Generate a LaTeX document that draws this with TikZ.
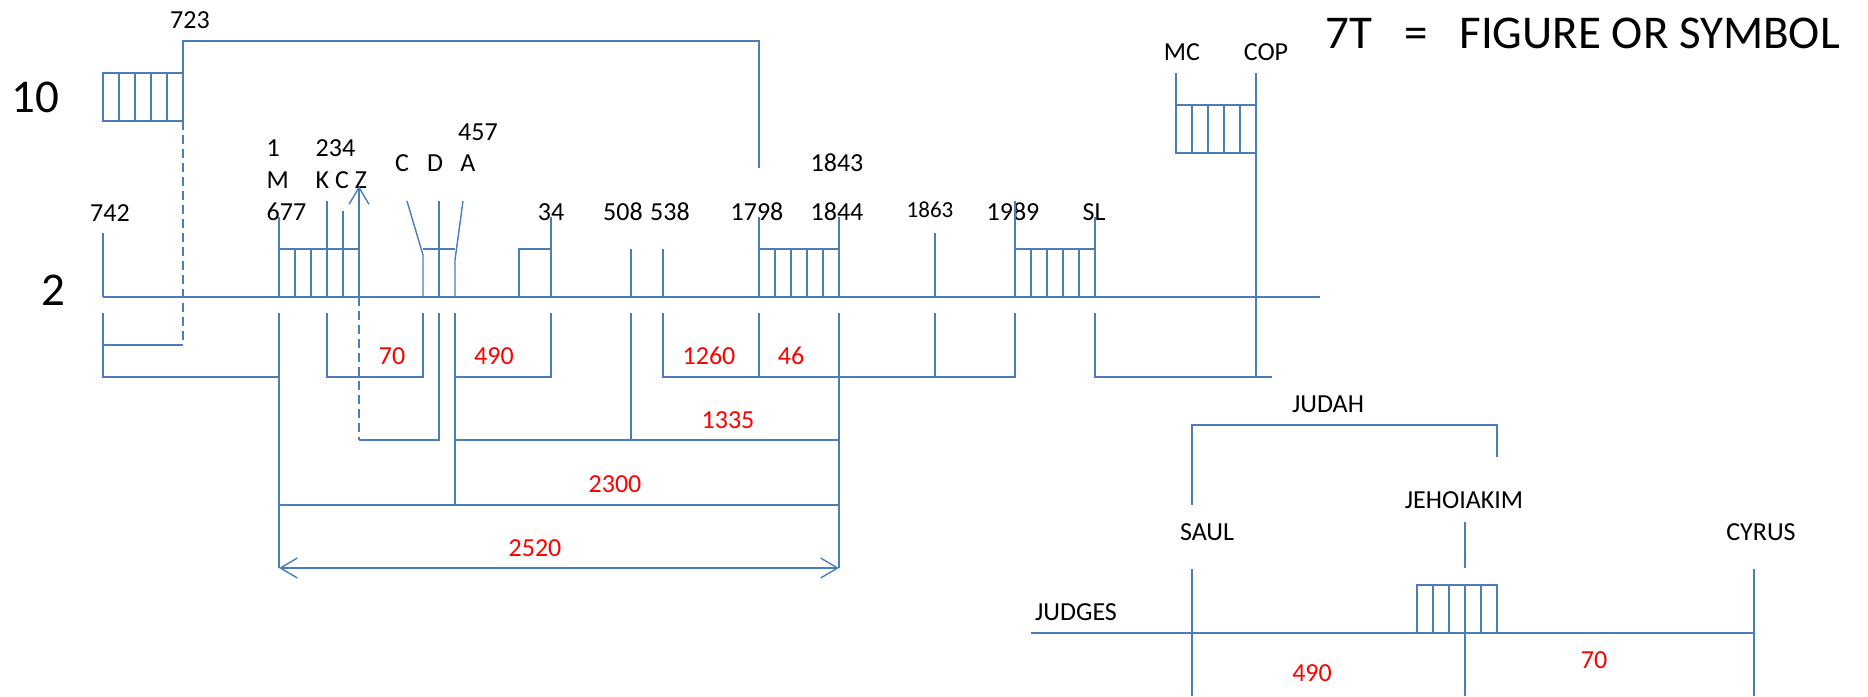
\documentclass[tikz,border=0pt]{standalone}
\usepackage{fontspec}
\setmainfont{Carlito}
\usetikzlibrary{arrows.meta}
\definecolor{tlblue}{HTML}{4A7EBB}

\begin{document}
\begin{tikzpicture}[x=1pt,y=-1pt,line width=1.4pt,color=tlblue,
  >={Straight Barb[length=17pt,width=20pt]},
  every node/.style={text=black},
  lbl/.style={inner sep=0pt,font=\fontsize{26}{30}\selectfont},
  big/.style={inner sep=0pt,font=\fontsize{47}{52}\selectfont},
  yrs/.style={lbl,text=red},
  dsh/.style={dash pattern=on 9pt off 5pt}]
\useasboundingbox (0,0) rectangle (1868,696);

% scale and key
\node[big] (ten) at (35,97) {10};
\node[big] (two) at (53,290) {2};
\node[big,anchor=west] (key) at (1325,33) {7T\ \ \ =\ \ \ FIGURE OR SYMBOL};

% labels above the line
\node[lbl] (d723) at (190,20) {723};
\node[lbl] (d742) at (110,213) {742};
\node[lbl,anchor=west] (n1) at (266,148) {1};
\node[lbl,anchor=west] (nM) at (266,180) {M};
\node[lbl,anchor=west] (d677) at (266,212) {677};
\node[lbl,anchor=west] (n234) at (315,148) {234};
\node[lbl,anchor=west] (nkcz) at (315,180) {K C Z};
\node[lbl] (nC) at (402,163) {C};
\node[lbl] (nD) at (435,163) {D};
\node[lbl] (nA) at (468,163) {A};
\node[lbl] (n457) at (478,132) {457};
\node[lbl] (d34) at (551,212) {34};
\node[lbl] (d508) at (623,212) {508};
\node[lbl] (d538) at (670,212) {538};
\node[lbl] (d1798) at (757,212) {1798};
\node[lbl] (d1843) at (837,163) {1843};
\node[lbl] (d1844) at (837,212) {1844};
\node[lbl,font=\fontsize{23}{27}\selectfont] (d1863) at (930,210) {1863};
\node[lbl] (d1989) at (1013,212) {1989};
\node[lbl] (nSL) at (1094,212) {SL};
\node[lbl] (nMC) at (1182,52) {MC};
\node[lbl] (nCOP) at (1266,52) {COP};

% periods
\node[yrs] (p70) at (392,356) {70};
\node[yrs] (p490) at (494,356) {490};
\node[yrs] (p1260) at (709,356) {1260};
\node[yrs] (p46) at (791,356) {46};
\node[yrs] (p1335) at (728,420) {1335};
\node[yrs] (p2300) at (615,484) {2300};
\node[yrs] (p2520) at (535,548) {2520};

% main time line and ticks
\draw (103,297) -- (1320,297);
\foreach \x/\t in {103/233, 279/217, 327/201, 343/211, 439/201, 551/217, 631/249,
  663/249, 759/217, 839/217, 935/233, 1015/201, 1095/217}
  \draw (\x,\t) -- (\x,297);
\draw (407,201) -- (423,255) -- (423,297);
\draw (463,201) -- (455,260) -- (455,297);
\draw (423,249) -- (455,249);
\draw (519,297) |- (551,249);
\draw[->] (359,297) -- (359,186);

% 7T boxes
\foreach \x/\y in {103/73, 279/249, 759/249, 1015/249, 1176/105, 1417/585}{
  \draw (\x,\y) rectangle ++(80,48);
  \foreach \i in {16,32,48,64} \draw (\x+\i,\y) -- ++(0,48);
}

% 723 and MC/COP
\draw (183,73) -- (183,41) -- (759,41) -- (759,168);
\draw[dsh] (183,121) -- (183,345);
\draw (103,345) -- (183,345);
\draw (1176,73) -- (1176,105);
\draw (1256,73) -- (1256,377);

% spans below the line
\draw (103,313) |- (279,377);
\draw (279,313) -- (279,568);
\draw (327,313) |- (423,377) -- (423,313);
\draw[dsh] (359,297) -- (359,440);
\draw (359,440) -| (439,313);
\draw (455,313) -- (455,505);
\draw (455,377) -| (551,313);
\draw (455,440) -- (839,440);
\draw (631,313) -- (631,440);
\draw (663,313) |- (1015,377) -- (1015,313);
\draw (759,313) -- (759,377);
\draw (935,313) -- (935,377);
\draw (839,313) -- (839,568);
\draw (279,505) -- (839,505);
\draw[<->] (279,568) -- (839,568);
\draw (1095,313) |- (1272,377);

% kings of Judah
\node[lbl] (judah) at (1328,404) {JUDAH};
\node[lbl] (jehoiakim) at (1464,500) {JEHOIAKIM};
\node[lbl] (saul) at (1207,532) {SAUL};
\node[lbl] (cyrus) at (1761,532) {CYRUS};
\node[lbl] (judges) at (1076,612) {JUDGES};
\node[yrs] (q490) at (1312,673) {490};
\node[yrs] (q70) at (1594,660) {70};
\draw (1192,505) |- (1497,425) -- (1497,457);
\draw (1465,522) -- (1465,568);
\draw (1031,633) -- (1754,633);
\draw (1192,569) -- (1192,696);
\draw (1754,569) -- (1754,696);
\draw (1465,633) -- (1465,696);
\end{tikzpicture}
\end{document}
